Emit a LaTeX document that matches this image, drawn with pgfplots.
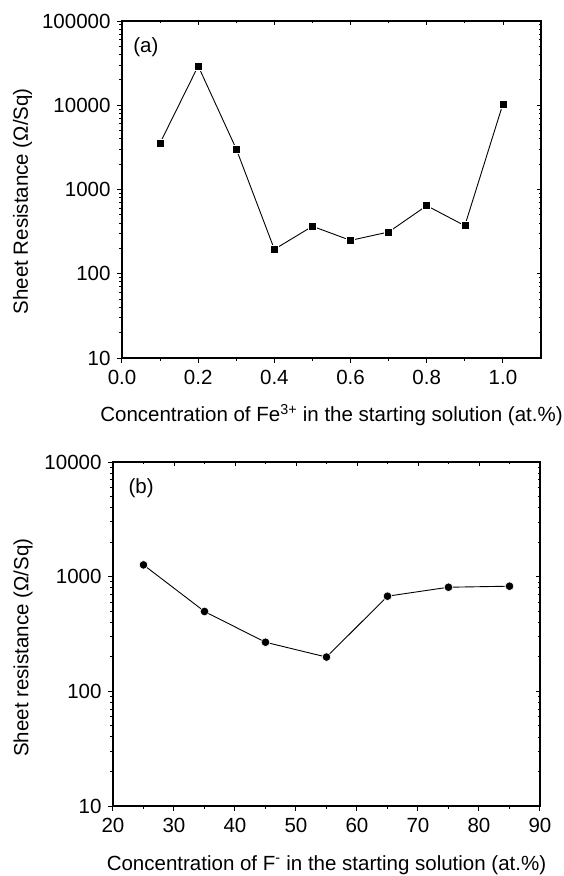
\documentclass[border=0pt]{standalone}
\usepackage{fontspec}
\setmainfont{Liberation Sans}
\usepackage{pgfplots}
\pgfplotsset{compat=1.18}

\pgfplotsset{
  panelbox/.style={
    scale only axis, anchor=north west,
    tick pos=left, tick align=outside,
    major tick length=5pt, minor tick length=3pt,
    axis line style={line width=1.3pt},
    every tick/.style={black, line width=1pt},
    log ticks with fixed point,
    /pgf/number format/1000 sep={},
    /pgf/number format/assume math mode=true,
    tick label style={font=\fontsize{20.5}{24}\selectfont},
    label style={font=\fontsize{20.5}{24}\selectfont},
    xticklabel style={yshift=-4pt},
    yticklabel style={xshift=-3pt},
  },
  mirrorbox/.style={
    scale only axis, anchor=north west,
    axis x line*=top, axis y line*=right,
    tick align=inside,
    major tick length=4pt, minor tick length=2pt,
    axis line style={line width=1.3pt},
    every tick/.style={black, line width=0.8pt},
    xticklabels={}, yticklabels={},
  },
}

\begin{document}
\begin{tikzpicture}
\path[use as bounding box] (0,0) rectangle (564pt,-876pt);

% (a) Fe3+ series
\begin{axis}[panelbox, ymode=log,
  at={(122pt,-21pt)}, width=419pt, height=337pt,
  xmin=0, xmax=1.1, ymin=10, ymax=100000,
  xtick={0,0.2,0.4,0.6,0.8,1.0}, minor x tick num=1,
  xticklabel style={/pgf/number format/fixed,
    /pgf/number format/fixed zerofill, /pgf/number format/precision=1},
  xlabel={Concentration of Fe\textsuperscript{3+} in the starting solution (at.\%)},
  ylabel={Sheet Resistance (Ω/Sq)},
  xlabel style={at={(axis description cs:0.5,-0.17)}, anchor=center},
  ylabel style={at={(axis description cs:-0.2375,0.465)}, anchor=center},
]
\addplot[black, line width=0.9pt, mark=square*, mark size=4pt,
  mark options={fill=black, draw=white, line width=0.6pt}] coordinates {
  (0.1, 3565) (0.2, 29230) (0.3, 3025) (0.4, 195) (0.5, 366)
  (0.6, 249) (0.7, 313) (0.8, 643) (0.9, 372) (1.0, 10350)
};
\node[font=\fontsize{20.5}{24}\selectfont] at (axis description cs:0.057,0.923) {(a)};
\end{axis}
\begin{axis}[mirrorbox, ymode=log,
  at={(122pt,-21pt)}, width=419pt, height=337pt,
  xmin=0, xmax=1.1, ymin=10, ymax=100000,
  xtick={0,0.2,0.4,0.6,0.8,1.0}, minor x tick num=1,
]
\end{axis}

% (b) F- series
\begin{axis}[panelbox, ymode=log,
  at={(113pt,-462pt)}, width=427pt, height=344pt,
  xmin=20, xmax=90, ymin=10, ymax=10000,
  xtick={20,30,...,90}, minor x tick num=1,
  xlabel={Concentration of F\textsuperscript{-} in the starting solution (at.\%)},
  ylabel={Sheet resistance (Ω/Sq)},
  xlabel style={at={(axis description cs:0.5,-0.172)}, anchor=center},
  ylabel style={at={(axis description cs:-0.2108,0.46)}, anchor=center},
]
\addplot[black, line width=0.9pt, mark=*, mark size=4.3pt,
  mark options={fill=black, draw=white, line width=0.6pt}] coordinates {
  (25, 1267) (35, 497) (45, 268) (55, 199) (65, 676) (75, 809) (85, 826)
};
\node[font=\fontsize{20.5}{24}\selectfont] at (axis description cs:0.066,0.9235) {(b)};
\end{axis}
\begin{axis}[mirrorbox, ymode=log,
  at={(113pt,-462pt)}, width=427pt, height=344pt,
  xmin=20, xmax=90, ymin=10, ymax=10000,
  xtick={20,30,...,90}, minor x tick num=1,
]
\end{axis}
\end{tikzpicture}
\end{document}
